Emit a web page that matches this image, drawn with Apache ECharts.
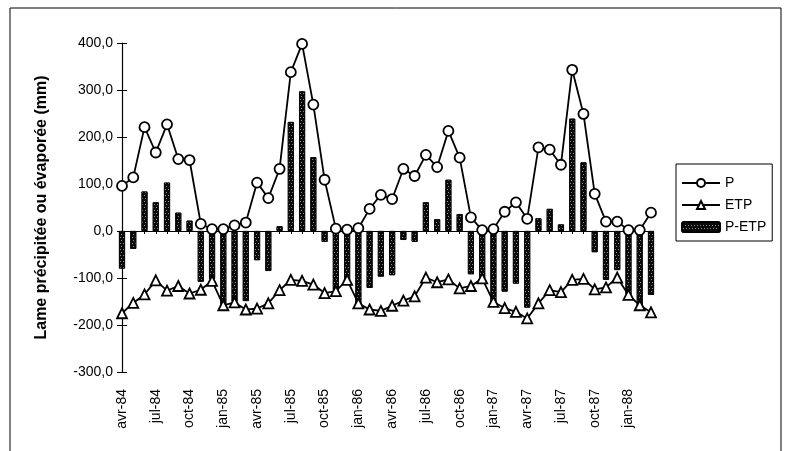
<!DOCTYPE html>
<html>
<head>
<meta charset="utf-8">
<script src="https://cdn.jsdelivr.net/npm/echarts@6/dist/echarts.min.js"></script>
<style>html,body{margin:0;padding:0;background:#fff}#c{width:788px;height:451px}</style>
</head>
<body>
<div id="c"></div>
<script>
var months = ['avr-84','mai-84','jun-84','jul-84','aoû-84','sep-84','oct-84','nov-84','déc-84',
  'jan-85','fév-85','mar-85','avr-85','mai-85','jun-85','jul-85','aoû-85','sep-85','oct-85','nov-85','déc-85',
  'jan-86','fév-86','mar-86','avr-86','mai-86','jun-86','jul-86','aoû-86','sep-86','oct-86','nov-86','déc-86',
  'jan-87','fév-87','mar-87','avr-87','mai-87','jun-87','jul-87','aoû-87','sep-87','oct-87','nov-87','déc-87',
  'jan-88','fév-88','mar-88'];
var P = [96,114,221,167,227,153,151,15,4,4,12,18,103,70,132,338,398,269,109,5,3,6,47,77,68,132,117,162,136,213,156,29,2,4,41,61,26,178,173,141,343,249,79,20,20,2,2,39];
var ETP = [-175,-153,-135,-105,-127,-117,-133,-125,-106,-158,-152,-167,-165,-154,-126,-104,-106,-114,-132,-128,-104,-154,-167,-170,-159,-148,-139,-99,-109,-103,-122,-117,-101,-151,-164,-172,-186,-154,-126,-130,-104,-102,-124,-120,-99,-136,-158,-173];
var PETP = [-80,-38,84,61,103,39,22,-108,-102,-157,-150,-149,-62,-85,10,232,297,157,-23,-126,-104,-156,-121,-97,-94,-19,-23,61,25,109,36,-92,-101,-156,-129,-112,-163,27,47,14,239,146,-45,-104,-83,-136,-165,-136];
var yTicks = {min:-300, max:400, interval:100};
var yTitle = 'Lame précipitée ou évaporée (mm)';

var font = "'Liberation Sans', Arial, sans-serif";
var chart = echarts.init(document.getElementById('c'));
chart.setOption({
  backgroundColor:'#fff',
  animation:false,
  textStyle:{fontFamily:font, color:'#000'},
  grid:{left:122, top:43, width:529, height:329},
  graphic:[{type:'rect', shape:{x:10,y:8,width:771,height:460}, style:{fill:'none', stroke:'#000', lineWidth:1}, silent:true}],
  legend:{
    orient:'vertical', left:676, top:164, padding:[12,6,7,5],
    borderColor:'#000', borderWidth:1, itemWidth:38, itemHeight:10, itemGap:8,
    textStyle:{fontSize:14, color:'#000', fontFamily:font},
    data:['P','ETP','P-ETP']
  },
  xAxis:[
    {type:'category', data:months, boundaryGap:false,
     axisLine:{onZero:true, lineStyle:{color:'#000', width:1.2}},
     axisTick:{show:true, interval:0, length:3, lineStyle:{color:'#000'}},
     axisLabel:{show:false}, splitLine:{show:false}},
    {type:'category', data:months, boundaryGap:false, position:'bottom',
     axisLine:{show:false, onZero:false}, axisTick:{show:false},
     axisLabel:{interval:2, rotate:90, margin:17, fontSize:14, color:'#000', fontFamily:font}}
  ],
  yAxis:[
    {type:'value', min:yTicks.min, max:yTicks.max, interval:yTicks.interval, position:'left',
     axisLine:{show:true, lineStyle:{color:'#000', width:1.2}},
     axisTick:{show:true, length:5, lineStyle:{color:'#000'}},
     splitLine:{show:false},
     axisLabel:{margin:9, fontSize:14, color:'#000', fontFamily:font,
       formatter:function(v){return v.toFixed(1).replace('.',',');}},
     name:yTitle, nameLocation:'middle', nameRotate:90, nameGap:72,
     nameTextStyle:{fontSize:16, fontWeight:'bold', color:'#000', fontFamily:font}},
    {type:'value', min:yTicks.min, max:yTicks.max, interval:yTicks.interval, position:'left', offset:0,
     axisLine:{show:false}, axisTick:{show:true, inside:true, length:5, lineStyle:{color:'#000'}},
     axisLabel:{show:false}, splitLine:{show:false}}
  ],
  series:[
    {name:'P-ETP', type:'bar', data:PETP, barWidth:6, xAxisIndex:0, yAxisIndex:0,
     itemStyle:{color:'#0a0a0a', borderColor:'#000', borderWidth:0.8,
       decal:{symbol:'rect', symbolSize:1, color:'rgba(255,255,255,0.55)', dashArrayX:[[1,2],[0,1,1,1]], dashArrayY:[1,2], rotation:0}}},
    {name:'ETP', type:'line', data:ETP, symbol:'triangle', symbolSize:10, z:3,
     showSymbol:true, showAllSymbol:true,
     lineStyle:{color:'#000', width:1.8}, itemStyle:{color:'#fff', borderColor:'#000', borderWidth:1.8}},
    {name:'P', type:'line', data:P, symbol:'circle', symbolSize:10, z:4,
     showSymbol:true, showAllSymbol:true,
     lineStyle:{color:'#000', width:1.8}, itemStyle:{color:'#fff', borderColor:'#000', borderWidth:1.8}}
  ]
});
</script>
</body>
</html>
